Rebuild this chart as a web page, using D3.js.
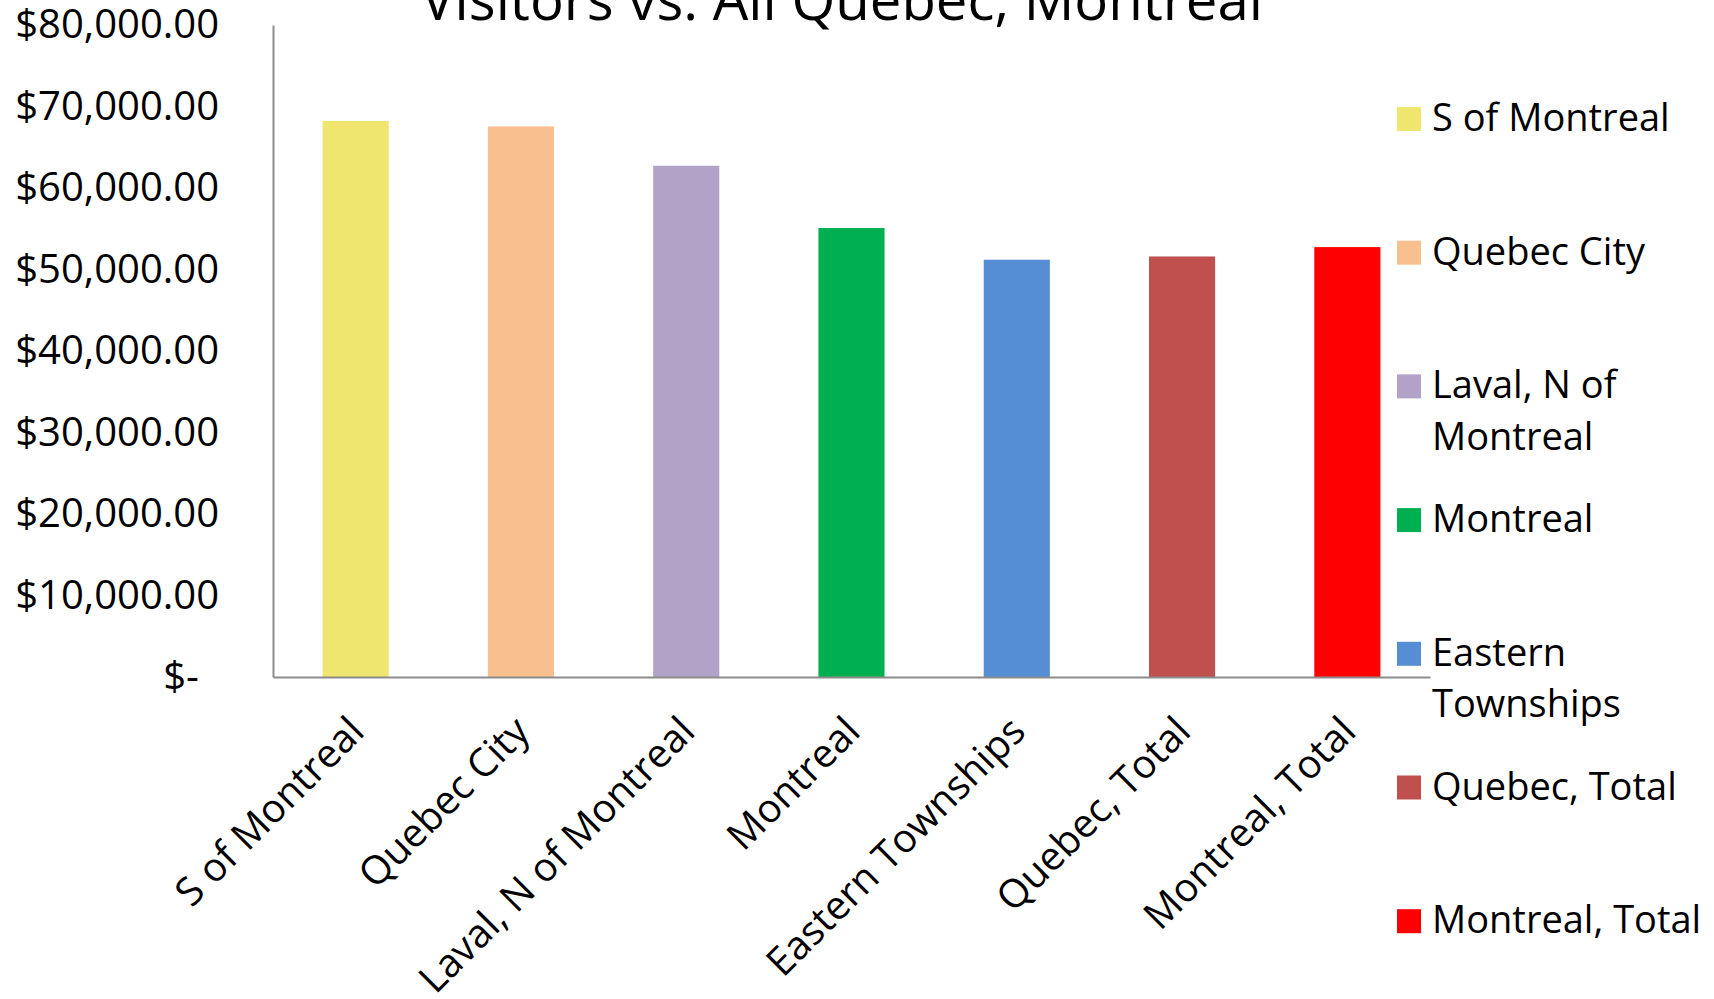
<!DOCTYPE html>
<html>
<head>
<meta charset="utf-8">
<script src="https://cdn.jsdelivr.net/npm/d3@7"></script>
<style>
    body { margin: 0; background: #fff; }
    svg { display: block; font-family: 'Open Sans', sans-serif; }
</style>
</head>
<body>
<script>
const categories = ['S of Montreal', 'Quebec City', 'Laval, N of Montreal', 'Montreal',
    'Eastern Townships', 'Quebec, Total', 'Montreal, Total']
const values = [68230, 67560, 62730, 55090, 51200, 51600, 52750]
const colors = ['#EEE66E', '#F9C08F', '#B2A2C7', '#00B050', '#558ED5', '#C0504D', '#FF0000']
// legend labels, wrapped like the original
const legendLines = [['S of Montreal'], ['Quebec City'], ['Laval, N of', 'Montreal'], ['Montreal'],
    ['Eastern', 'Townships'], ['Quebec, Total'], ['Montreal, Total']]
const yTicks = [0, 10000, 20000, 30000, 40000, 50000, 60000, 70000, 80000]
const title = 'Visitors vs. All Quebec, Montreal'

const width = 1714
const height = 999
const plotLeft = 273, plotRight = 1430, plotTop = 25, plotBottom = 677

const svg = d3.select('body')
    .append('svg')
    .attr('width', width)
    .attr('height', height)

const x = d3.scaleBand()
    .domain(categories)
    .range([plotLeft, plotRight])
    .paddingInner(0.6)
    .paddingOuter(0.3)

const y = d3.scaleLinear()
    .domain([0, 80000])
    .range([plotBottom, plotTop])

const money = d3.format('$,.2f')

// bars
svg.append('g')
    .selectAll('rect')
    .data(values)
    .join('rect')
    .attr('x', (d, i) => x(categories[i]))
    .attr('y', d => y(d))
    .attr('width', x.bandwidth())
    .attr('height', d => y(0) - y(d))
    .attr('fill', (d, i) => colors[i])

// y axis
const yAxis = svg.append('g')
    .attr('transform', `translate(${plotLeft},0)`)
    .call(d3.axisLeft(y)
        .tickValues(yTicks)
        .tickSize(0)
        .tickPadding(54)
        .tickFormat(d => d === 0 ? '$-' : money(d)))
yAxis.select('.domain').attr('stroke', '#8c8c8c').attr('stroke-width', 2)
yAxis.selectAll('text')
    .attr('font-size', 40)
    .attr('fill', '#000')
    .attr('font-family', "'Open Sans', sans-serif")
    .attr('dx', d => d === 0 ? -20 : 0)

// x axis
const xAxis = svg.append('g')
    .attr('transform', `translate(0,${plotBottom})`)
    .call(d3.axisBottom(x).tickSize(0).tickFormat(''))
xAxis.select('.domain').attr('stroke', '#8c8c8c').attr('stroke-width', 2)

svg.append('g')
    .selectAll('text')
    .data(categories)
    .join('text')
    .attr('transform', d => `translate(${x(d) + x.bandwidth() / 2 + 1},${plotBottom + 47}) rotate(-45)`)
    .attr('text-anchor', 'end')
    .attr('dy', '0.35em')
    .attr('font-size', 39.5)
    .text(d => d)

// title
svg.append('text')
    .attr('x', 421)
    .attr('y', 20)
    .attr('font-size', 56)
    .attr('textLength', 842)
    .attr('lengthAdjust', 'spacingAndGlyphs')
    .text(title)

// legend
const legend = svg.append('g')
    .selectAll('g')
    .data(legendLines)
    .join('g')
    .attr('transform', (d, i) => `translate(1397,${119 + i * 133.7})`)

legend.append('rect')
    .attr('y', -12)
    .attr('width', 24)
    .attr('height', 24)
    .attr('fill', (d, i) => colors[i])

legend.each(function (lines) {
    const t = d3.select(this).append('text')
        .attr('x', 35)
        .attr('font-size', 38)
    lines.forEach((line, j) => {
        t.append('tspan')
            .attr('x', 35)
            .attr('y', 12 + j * 51.5)
            .text(line)
    })
})
</script>
</body>
</html>
